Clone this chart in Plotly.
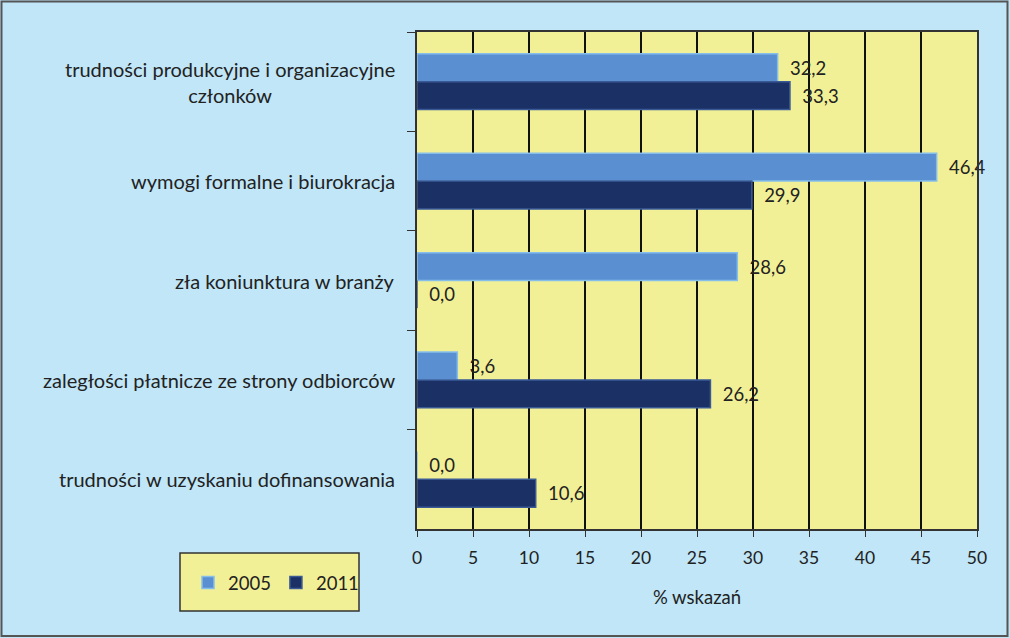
import plotly.graph_objects as go

categories = [
    "trudności produkcyjne i organizacyjne<br>członków",
    "wymogi formalne i biurokracja",
    "zła koniunktura w branży",
    "zaległości płatnicze ze strony odbiorców",
    "trudności w uzyskaniu dofinansowania",
]
values_2005 = [32.2, 46.4, 28.6, 3.6, 0.0]
values_2011 = [33.3, 29.9, 0.0, 26.2, 10.6]
series_names = ["2005", "2011"]
x_ticks = [0, 5, 10, 15, 20, 25, 30, 35, 40, 45, 50]
x_title = "% wskazań"

FONT = "Lato"
TXT = "#222222"

def fmt(v):
    return "\u2002" + f"{v:.1f}".replace(".", ",")

fig = go.Figure()
fig.add_trace(go.Bar(
    y=categories, x=values_2005, name=series_names[0], orientation="h",
    marker=dict(color="#5A90D2", line=dict(color="#86BEEB", width=1.5)),
    text=[fmt(v) for v in values_2005], textposition="outside", cliponaxis=False,
    textfont=dict(family=FONT, size=18.5, color=TXT),
))
fig.add_trace(go.Bar(
    y=categories, x=values_2011, name=series_names[1], orientation="h",
    marker=dict(color="#1B3064", line=dict(color="#3A5A96", width=1.5)),
    text=[fmt(v) for v in values_2011], textposition="outside", cliponaxis=False,
    textfont=dict(family=FONT, size=18.5, color=TXT),
))

annotations = []
for c in categories:
    annotations.append(dict(
        x=0, xref="paper", xanchor="right", xshift=-20,
        y=c, yref="y", yanchor="middle",
        text=c, showarrow=False, align="center",
        font=dict(family=FONT, size=20, color=TXT),
    ))

L, R, T, B = 417, 33, 32, 109
W, H = 1010, 638
pw, ph = W - L - R, H - T - B

def px_x(p):
    return (p - L) / pw

def px_y(p):
    return (H - B - p) / ph

shapes = [
    dict(type="rect", xref="paper", yref="paper",
         x0=px_x(1.5), x1=px_x(1007.5), y0=px_y(636), y1=px_y(1.5),
         line=dict(color="#555555", width=2), fillcolor="rgba(0,0,0,0)", layer="below"),
    dict(type="rect", xref="paper", yref="paper",
         x0=px_x(180), x1=px_x(359), y0=px_y(611), y1=px_y(553),
         line=dict(color="#333333", width=1.5), fillcolor="#F2F096", layer="below"),
]

fig.update_layout(
    width=W, height=H,
    margin=dict(l=L, r=R, t=T, b=B),
    paper_bgcolor="#C0E6F8",
    plot_bgcolor="#F2F096",
    barmode="group", bargap=0.44, bargroupgap=0.0,
    font=dict(family=FONT, size=18, color=TXT),
    showlegend=True,
    legend=dict(orientation="h", x=px_x(276), xanchor="center",
                y=px_y(583), yanchor="middle",
                bgcolor="rgba(0,0,0,0)", font=dict(family=FONT, size=18.5, color=TXT),
                traceorder="normal", itemwidth=30),
    annotations=annotations,
    shapes=shapes,
    xaxis=dict(range=[0, 50], tickvals=x_ticks, ticktext=[str(t) for t in x_ticks],
               showgrid=True, gridcolor="#111111", gridwidth=1.5,
               showline=True, linecolor="#333333", linewidth=1.5, mirror=True,
               ticks="outside", ticklen=6, tickcolor="#333333",
               ticklabelstandoff=6,
               tickfont=dict(family=FONT, size=17.5, color=TXT),
               title=dict(text=x_title, font=dict(family=FONT, size=18.5, color=TXT), standoff=24),
               zeroline=False, fixedrange=True),
    yaxis=dict(categoryorder="array", categoryarray=categories, autorange="reversed",
               showticklabels=False, ticks="outside", tickson="boundaries", ticklen=8,
               tickcolor="#333333", showline=True, linecolor="#333333", linewidth=1.5,
               mirror=True, showgrid=False, fixedrange=True),
)

fig.write_html("out.html", post_script="document.body.style.margin='0';",
               config={"displayModeBar": False})
